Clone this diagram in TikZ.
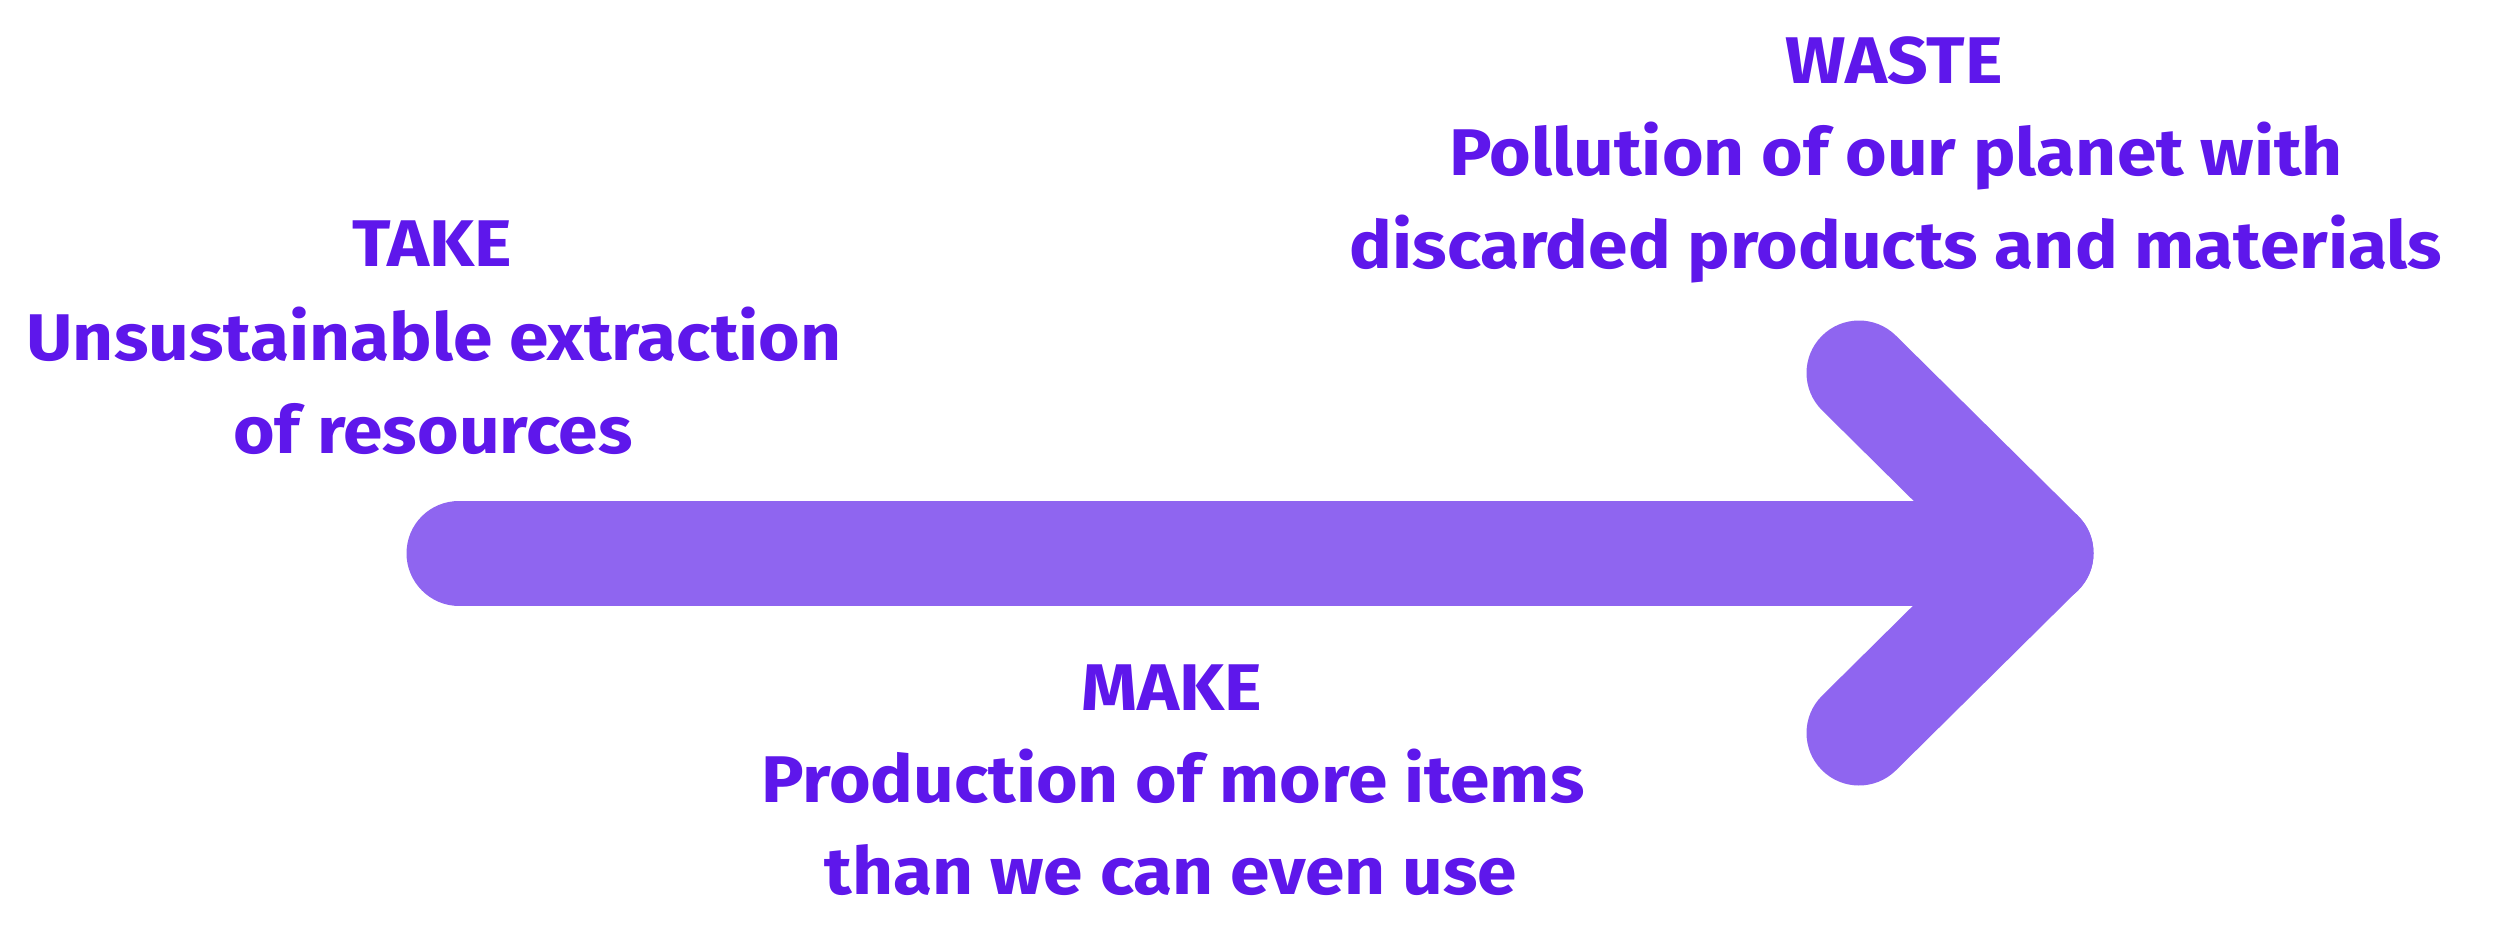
\documentclass[tikz,border=0pt]{standalone}
\usepackage{fontspec}
\setmainfont{Fira Sans}[FakeStretch=1.08]
\definecolor{txtpurple}{HTML}{5E17EB}
\definecolor{arrowpurple}{HTML}{8F65F0}
\begin{document}
\begin{tikzpicture}[x=1pt,y=-1pt,
  lbl/.style={text=txtpurple,font=\bfseries\fontsize{66}{79}\selectfont,anchor=base,inner sep=0pt},
  bigarrow/.style={draw=arrowpurple,line width=105pt,line cap=round,line join=round}]
\useasboundingbox (0,0) rectangle (2500,934);
% arrow
\coordinate (tail) at (459,553);
\coordinate (tip) at (2041,553);
\coordinate (armtop) at (1859,373);
\coordinate (armbot) at (1859,733);
\draw[bigarrow] (tail) -- (tip);
\draw[bigarrow] (armtop) -- (tip) -- (armbot);
% TAKE
\node[lbl] (take1) at (432,266) {TAKE};
\node[lbl] (take2) at (434,360) {Unsustainable extraction};
\node[lbl] (take3) at (433,453) {of resources};
% WASTE
\node[lbl] (waste1) at (1894,83) {WASTE};
\node[lbl] (waste2) at (1896,175) {Pollution of our planet with};
\node[lbl] (waste3) at (1896,268) {discarded products and materials};
% MAKE
\node[lbl] (make1) at (1172,710) {MAKE};
\node[lbl] (make2) at (1173,802) {Production of more items};
\node[lbl] (make3) at (1171,894) {than we can even use};
\end{tikzpicture}
\end{document}
